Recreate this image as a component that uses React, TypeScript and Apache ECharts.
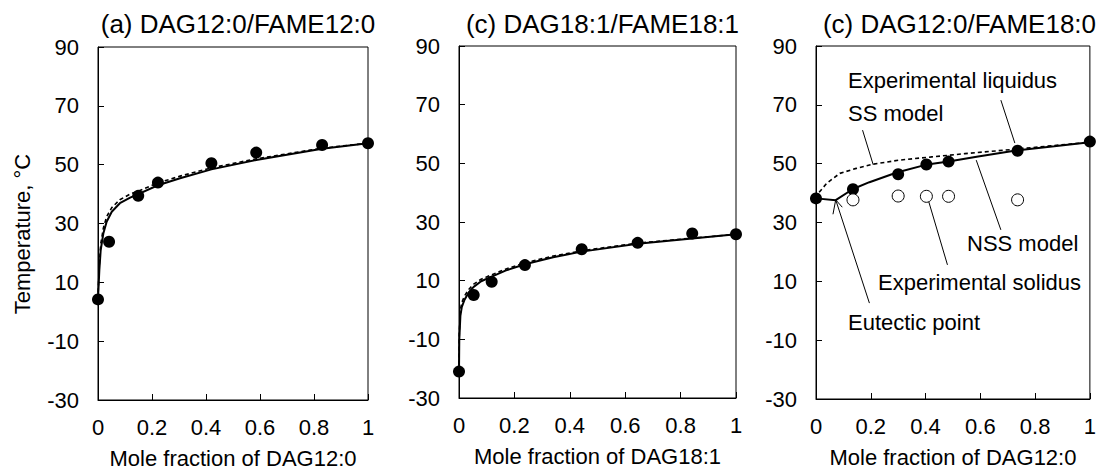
import React, { useEffect, useRef } from "react";
import * as echarts from "echarts";

const FONT = "'Liberation Sans', Arial, sans-serif";

// Panel titles and axis names
const titles = ["(a) DAG12:0/FAME12:0", "(c) DAG18:1/FAME18:1", "(c) DAG12:0/FAME18:0"];
const xNames = ["Mole fraction of DAG12:0", "Mole fraction of DAG18:1", "Mole fraction of DAG12:0"];
const yName = "Temperature, °C";

// Panel (a): experimental liquidus and models
const expA: number[][] = [
  [0, 4.2], [0.041, 23.8], [0.149, 39.4], [0.222, 43.9], [0.42, 50.5], [0.586, 54.1], [0.83, 56.7], [1, 57.3],
];
const nssA: number[][] = [
  [0, 4.2], [0.001, 6.3], [0.005, 14.2], [0.01, 21], [0.02, 26.7], [0.032, 30.6], [0.051, 34], [0.081, 36.9],
  [0.119, 38.8], [0.149, 40.0], [0.222, 43.0], [0.304, 45.4], [0.42, 48.4], [0.586, 51.6], [0.83, 55.4], [1, 57.3],
];
const ssA: number[][] = [
  [0, 4.2], [0.001, 7.5], [0.005, 16], [0.01, 23], [0.02, 28.5], [0.032, 32.3], [0.051, 35.4], [0.081, 38.1],
  [0.119, 40.0], [0.149, 41.0], [0.222, 43.8], [0.304, 46.1], [0.42, 48.9], [0.586, 52.0], [0.83, 55.6], [1, 57.3],
];

// Panel (c) DAG18:1/FAME18:1
const expB: number[][] = [
  [0, -21], [0.053, 5.1], [0.118, 9.6], [0.238, 15.3], [0.443, 20.7], [0.645, 22.9], [0.842, 26.1], [1, 25.8],
];
const nssB: number[][] = [
  [0, -21], [0.001, -10], [0.005, -2], [0.01, 1], [0.02, 3.5], [0.035, 6], [0.053, 7.9], [0.08, 9.8],
  [0.118, 11.4], [0.17, 13.5], [0.238, 15.6], [0.34, 18], [0.443, 19.9], [0.645, 22.6], [0.842, 24.4], [1, 25.8],
];
const ssB: number[][] = [
  [0, -21], [0.001, -8], [0.005, 0], [0.01, 2.5], [0.02, 4.8], [0.035, 7], [0.053, 8.8], [0.08, 10.5],
  [0.118, 12], [0.17, 14], [0.238, 16.1], [0.34, 18.4], [0.443, 20.2], [0.645, 22.8], [0.842, 24.5], [1, 25.8],
];

// Panel (c) DAG12:0/FAME18:0
const liqC: number[][] = [
  [0, 38.2], [0.135, 41.3], [0.3, 46.4], [0.403, 49.7], [0.484, 50.7], [0.736, 54.4], [1, 57.5],
];
const solC: number[][] = [
  [0.135, 37.7], [0.3, 39], [0.403, 38.9], [0.484, 38.9], [0.736, 37.7],
];
const nssC: number[][] = [
  [0, 38.2], [0.072, 37.6], [0.135, 41.4], [0.195, 43.7], [0.295, 47], [0.4, 49.6], [0.484, 50.7],
  [0.592, 52.4], [0.73, 54.5], [0.87, 55.9], [1, 57.3],
];
const ssC: number[][] = [
  [0, 38.2], [0.008, 39.9], [0.039, 43.3], [0.087, 46.7], [0.147, 48.4], [0.207, 49.8], [0.303, 51.2],
  [0.423, 52.3], [0.544, 53.4], [0.725, 54.9], [1, 57.3],
];

// Annotation leader lines in panel 3 (data coordinates)
const leaderLiquidus: number[][] = [[0.675, 71.6], [0.726, 57.0]];
const leaderSS: number[][] = [[0.17, 61.4], [0.209, 49.6]];
const leaderNSS: number[][] = [[0.675, 27.5], [0.585, 51.2]];
const leaderSolidus: number[][] = [[0.48, 15.6], [0.412, 37.0]];
const leaderEutectic: number[][] = [[0.195, 2.6], [0.072, 37.7]];
const arrowEutectic: number[][] = [[0.062, 32.8], [0.072, 37.7], [0.096, 35.2]];

const annotationTexts = ["Experimental liquidus", "SS model", "NSS model", "Experimental solidus", "Eutectic point"];

const grids = [
  { left: 98, top: 47, width: 270, height: 353 },
  { left: 459, top: 46, width: 277, height: 352 },
  { left: 816, top: 46, width: 277, height: 353 },
];

export default function App() {
  const ref = useRef<HTMLDivElement>(null);
  useEffect(() => {
    if (!ref.current) return;
    const chart = echarts.init(ref.current, null, { renderer: "svg" });
    const textStyle = { fontFamily: FONT, fontSize: 22, color: "#000" };

    const xAxes = grids.map((_, i) => ({
      type: "value",
      gridIndex: i,
      min: 0,
      max: 1,
      interval: 0.2,
      name: xNames[i],
      nameLocation: "middle",
      nameGap: 47,
      nameTextStyle: { ...textStyle },
      axisLine: { show: true, onZero: false, lineStyle: { color: "#000", width: 1 } },
      axisTick: { show: true, inside: true, length: 6, lineStyle: { color: "#000" } },
      axisLabel: { ...textStyle, margin: 16 },
      splitLine: { show: false },
    }));
    const yAxes = grids.map((_, i) => ({
      type: "value",
      gridIndex: i,
      min: -30,
      max: 90,
      interval: 20,
      axisLine: { show: true, onZero: false, lineStyle: { color: "#000", width: 1 } },
      axisTick: { show: true, inside: true, length: 6, lineStyle: { color: "#000" } },
      axisLabel: { ...textStyle, margin: 19 },
      splitLine: { show: false },
    }));

    const solid = (data: number[][], idx: number) => ({
      type: "line", xAxisIndex: idx, yAxisIndex: idx, data, showSymbol: false, symbol: "none",
      lineStyle: { color: "#000", width: 2 }, z: 2, silent: true,
    });
    const dashed = (data: number[][], idx: number) => ({
      type: "line", xAxisIndex: idx, yAxisIndex: idx, data, showSymbol: false, symbol: "none",
      lineStyle: { color: "#000", width: 1.6, type: [4, 3] }, z: 2, silent: true,
    });
    const thin = (data: number[][], idx: number) => ({
      type: "line", xAxisIndex: idx, yAxisIndex: idx, data, showSymbol: false, symbol: "none",
      lineStyle: { color: "#000", width: 1 }, z: 1, silent: true,
    });
    const filled = (data: number[][], idx: number) => ({
      type: "scatter", xAxisIndex: idx, yAxisIndex: idx, data, symbol: "circle", symbolSize: 12,
      itemStyle: { color: "#000", opacity: 1 }, z: 5,
    });
    const open = (data: number[][], idx: number) => ({
      type: "scatter", xAxisIndex: idx, yAxisIndex: idx, data, symbol: "circle", symbolSize: 12,
      itemStyle: { color: "#fff", borderColor: "#000", borderWidth: 1, opacity: 1 }, z: 5,
    });

    const annPos = [
      [848, 80], [848, 113], [967, 243], [878, 282], [848, 322],
    ];

    chart.setOption({
      animation: false,
      backgroundColor: "#fff",
      title: grids.map((g, i) => ({
        text: titles[i],
        left: g.left + g.width / 2,
        top: 6,
        textAlign: "center",
        textStyle: { fontFamily: FONT, fontSize: 26, fontWeight: "normal", color: "#000" },
      })),
      grid: grids.map((g) => ({ ...g, show: true, borderColor: "#000", borderWidth: 1, backgroundColor: "transparent" })),
      xAxis: xAxes,
      yAxis: yAxes,
      series: [
        dashed(ssA, 0), solid(nssA, 0), filled(expA, 0),
        dashed(ssB, 1), solid(nssB, 1), filled(expB, 1),
        dashed(ssC, 2), solid(nssC, 2), filled(liqC, 2), open(solC, 2),
        thin(leaderLiquidus, 2), thin(leaderSS, 2), thin(leaderNSS, 2), thin(leaderSolidus, 2),
        thin(leaderEutectic, 2), thin(arrowEutectic, 2),
      ],
      graphic: [
        {
          type: "text",
          x: 22,
          y: 234,
          rotation: Math.PI / 2,
          style: { text: yName, font: `22px ${FONT}`, fill: "#000", textAlign: "center", textVerticalAlign: "middle" },
        },
        ...annotationTexts.map((t, i) => ({
          type: "text",
          x: annPos[i][0],
          y: annPos[i][1],
          style: { text: t, font: `22px ${FONT}`, fill: "#000", textVerticalAlign: "middle" },
        })),
      ],
    });
    return () => chart.dispose();
  }, []);
  return <div ref={ref} style={{ position: "absolute", left: 0, top: 0, width: 1099, height: 474 }} />;
}
